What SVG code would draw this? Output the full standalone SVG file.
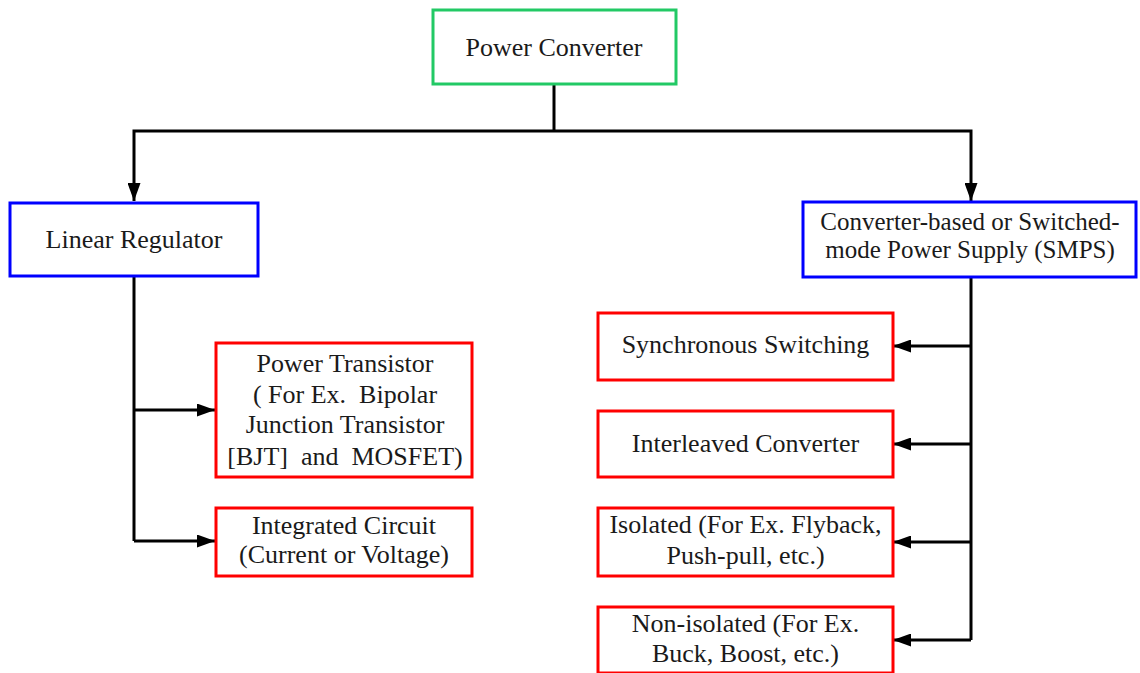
<svg xmlns="http://www.w3.org/2000/svg" width="1140" height="673" viewBox="0 0 1140 673">
  <style>
    .box { fill: #ffffff; stroke-width: 3; }
    .root { stroke: #22c965; }
    .mid { stroke: #0000ff; }
    .leaf { stroke: #ff0000; }
    .lbl { font-family: "Liberation Serif", "Times New Roman", serif; font-size: 26px; fill: #1a1a1a; text-anchor: middle; white-space: pre; }
    .tight { font-size: 25px; }
    .wire { fill: none; stroke: #000000; stroke-width: 3; }
  </style>
  <defs>
    <marker id="arrow" viewBox="0 0 18 13" refX="18" refY="6.5" markerWidth="18" markerHeight="13" markerUnits="userSpaceOnUse" orient="auto">
      <path d="M0,0 L18,6.5 L0,13 Z" fill="#000000"/>
    </marker>
  </defs>

  <rect width="1140" height="673" fill="#ffffff"/>

  <!-- connectors -->
  <g id="connectors">
    <path class="wire" d="M554,84 V131"/>
    <path class="wire" d="M554,131 H134 V201" marker-end="url(#arrow)"/>
    <path class="wire" d="M554,131 H971 V201" marker-end="url(#arrow)"/>
    <path class="wire" d="M134,276 V541"/>
    <path class="wire" d="M134,410 H215" marker-end="url(#arrow)"/>
    <path class="wire" d="M134,541 H215" marker-end="url(#arrow)"/>
    <path class="wire" d="M971,277 V640"/>
    <path class="wire" d="M971,346 H893" marker-end="url(#arrow)"/>
    <path class="wire" d="M971,444 H893" marker-end="url(#arrow)"/>
    <path class="wire" d="M971,542 H893" marker-end="url(#arrow)"/>
    <path class="wire" d="M971,640 H893" marker-end="url(#arrow)"/>
  </g>

  <g id="power-converter">
    <rect class="box root" x="433" y="10" width="243" height="74"/>
    <text class="lbl" x="554" y="56">Power Converter</text>
  </g>

  <g id="linear-regulator">
    <rect class="box mid" x="10" y="203" width="248" height="73"/>
    <text class="lbl" x="134" y="248">Linear Regulator</text>
  </g>

  <g id="smps">
    <rect class="box mid" x="803" y="202" width="333" height="75"/>
    <text class="lbl tight" x="970" y="230">Converter-based or Switched-</text>
    <text class="lbl tight" x="970" y="258">mode Power Supply (SMPS)</text>
  </g>

  <g id="power-transistor">
    <rect class="box leaf" x="216" y="343" width="256" height="134"/>
    <text class="lbl" x="345" y="372">Power Transistor</text>
    <text class="lbl" x="345" y="403" xml:space="preserve">( For Ex.  Bipolar</text>
    <text class="lbl" x="345" y="433">Junction Transistor</text>
    <text class="lbl" x="345" y="465" xml:space="preserve">[BJT]  and  MOSFET)</text>
  </g>

  <g id="integrated-circuit">
    <rect class="box leaf" x="216" y="508" width="256" height="68"/>
    <text class="lbl" x="344" y="534">Integrated Circuit</text>
    <text class="lbl" x="344" y="563">(Current or Voltage)</text>
  </g>

  <g id="synchronous-switching">
    <rect class="box leaf" x="598" y="313" width="295" height="67"/>
    <text class="lbl" x="745.5" y="353">Synchronous Switching</text>
  </g>

  <g id="interleaved-converter">
    <rect class="box leaf" x="598" y="411" width="295" height="66"/>
    <text class="lbl" x="745.5" y="452">Interleaved Converter</text>
  </g>

  <g id="isolated">
    <rect class="box leaf" x="598" y="508" width="295" height="68"/>
    <text class="lbl" x="745.5" y="533">Isolated (For Ex. Flyback,</text>
    <text class="lbl" x="745.5" y="564">Push-pull, etc.)</text>
  </g>

  <g id="non-isolated">
    <rect class="box leaf" x="598" y="607" width="295" height="66"/>
    <text class="lbl" x="745.5" y="632">Non-isolated (For Ex.</text>
    <text class="lbl" x="745.5" y="662">Buck, Boost, etc.)</text>
  </g>
</svg>
